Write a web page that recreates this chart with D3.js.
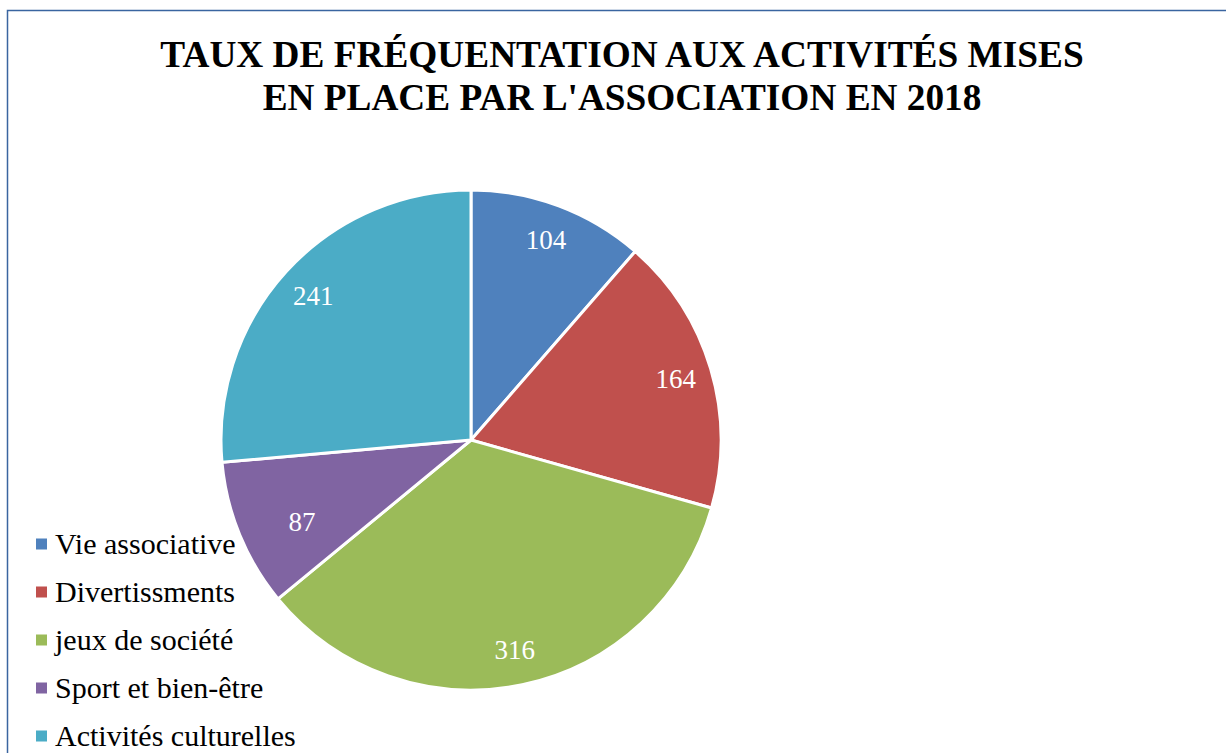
<!DOCTYPE html>
<html>
<head>
<meta charset="utf-8">
<script src="https://cdn.jsdelivr.net/npm/d3@7"></script>
<style>
  html, body { margin: 0; padding: 0; background: #fff; }
  svg { display: block; }
</style>
</head>
<body>
<div id="chart"></div>
<script>
// data
var categories = ['Vie associative', 'Divertissments', 'jeux de société', 'Sport et bien-être', 'Activités culturelles'];
var values = [104, 164, 316, 87, 241];
var colors = ['#4f81bd', '#c0504d', '#9bbb59', '#8064a2', '#4bacc6'];
var titleLines = ["TAUX DE FRÉQUENTATION AUX ACTIVITÉS MISES", "EN PLACE PAR L'ASSOCIATION EN 2018"];

var W = 1226, H = 753;
var cx = 471, cy = 440, R = 250;
var FONT = 'Liberation Serif';

var svg = d3.select('#chart').append('svg').attr('width', W).attr('height', H);

// chart frame (runs off the right and bottom of the shot)
svg.append('rect')
  .attr('x', 7.5).attr('y', 10.5)
  .attr('width', 1230).attr('height', 760)
  .attr('fill', '#fff')
  .attr('stroke', '#3a65a0').attr('stroke-width', 1.5);

// title
svg.append('g').selectAll('text')
  .data(titleLines).enter().append('text')
  .attr('x', 622)
  .attr('y', function(d, i) { return 67 + i * 43; })
  .attr('text-anchor', 'middle')
  .attr('font-family', FONT)
  .attr('font-weight', 'bold')
  .attr('font-size', 37.3)
  .text(function(d) { return d; });

// pie
var pie = d3.pie().sort(null).value(function(d) { return d; });
var arcs = pie(values);
var arc = d3.arc().innerRadius(0).outerRadius(R);

var g = svg.append('g').attr('transform', 'translate(' + cx + ',' + cy + ')');

g.selectAll('path')
  .data(arcs).enter().append('path')
  .attr('d', arc)
  .attr('fill', function(d, i) { return colors[i]; })
  .attr('stroke', '#fff')
  .attr('stroke-width', 3)
  .attr('stroke-linejoin', 'round');

var total = d3.sum(values);
// small slices get their label pulled further in, like excel does
function labelArc(d) {
  var frac = d.value / total;
  var r = frac < 0.1 ? R * 0.75 : R * 0.855;
  var mid = (d.startAngle + d.endAngle) / 2;
  if (frac < 0.1) mid -= 0.06;
  return [Math.sin(mid) * r, -Math.cos(mid) * r];
}

g.selectAll('text.lbl')
  .data(arcs).enter().append('text')
  .attr('class', 'lbl')
  .attr('x', function(d) { return labelArc(d)[0]; })
  .attr('y', function(d) { return labelArc(d)[1]; })
  .attr('dy', '0.35em')
  .attr('text-anchor', 'middle')
  .attr('fill', '#fff')
  .attr('font-family', FONT)
  .attr('font-size', 27)
  .text(function(d) { return d.value; });

// legend
var legend = svg.append('g').selectAll('g')
  .data(categories).enter().append('g')
  .attr('transform', function(d, i) { return 'translate(36,' + (544 + i * 48) + ')'; });

legend.append('rect')
  .attr('x', 0).attr('y', -5.5)
  .attr('width', 11).attr('height', 11)
  .attr('fill', function(d, i) { return colors[i]; });

legend.append('text')
  .attr('x', 19).attr('y', 0)
  .attr('dy', '0.32em')
  .attr('font-family', FONT)
  .attr('font-size', 30)
  .text(function(d) { return d; });
</script>
</body>
</html>
